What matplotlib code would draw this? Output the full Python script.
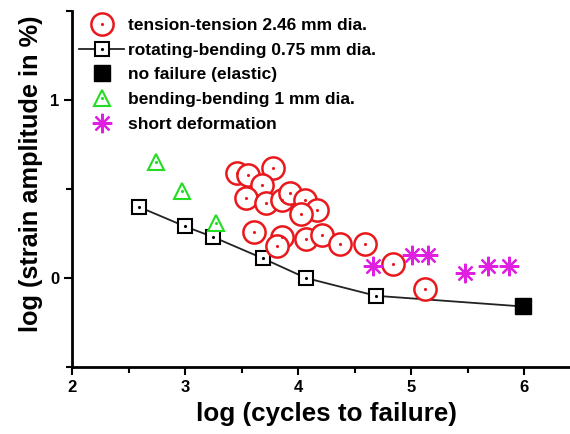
import matplotlib
matplotlib.use('Agg')
import matplotlib.pyplot as plt
from matplotlib.lines import Line2D

plt.rcParams['font.family'] = ['Liberation Sans', 'DejaVu Sans']
plt.rcParams['font.weight'] = 'bold'

# tension-tension 2.46 mm dia.
tt_x = [3.46, 3.56, 3.78, 3.68, 3.54, 3.72, 3.86, 3.93, 4.06, 4.17, 4.03,
        3.61, 3.86, 3.81, 4.07, 4.21, 4.37, 4.59, 4.84, 5.12]
tt_y = [0.59, 0.58, 0.62, 0.52, 0.45, 0.42, 0.44, 0.48, 0.44, 0.38, 0.36,
        0.26, 0.23, 0.18, 0.22, 0.24, 0.19, 0.19, 0.08, -0.06]

# rotating-bending 0.75 mm dia.
rb_x = [2.59, 3.00, 3.25, 3.69, 4.07, 4.69]
rb_y = [0.40, 0.29, 0.23, 0.11, 0.00, -0.10]

# no failure (elastic)
nf_x = [5.99]
nf_y = [-0.16]

# bending-bending 1 mm dia.
bb_x = [2.74, 2.97, 3.27]
bb_y = [0.65, 0.49, 0.31]

# short deformation
sd_x = [4.66, 5.01, 5.15, 5.48, 5.68, 5.87]
sd_y = [0.07, 0.13, 0.13, 0.03, 0.07, 0.07]

red = '#e8181c'
green = '#22dd22'
magenta = '#e020e0'
asterisk = (8, 2, 0)

fig = plt.figure(figsize=(5.7, 4.34), dpi=100)
ax = fig.add_axes([72 / 570, 1 - 367 / 434, 498 / 570, 356 / 434])

# line through rotating-bending points and the no-failure point
ax.plot(rb_x + nf_x, rb_y + nf_y, color='#222222', lw=1.3, zorder=1)
ax.plot(rb_x, rb_y, ls='none', marker='s', ms=10.5, mfc='white', mec='black', mew=1.5, zorder=3)
ax.plot(rb_x, rb_y, ls='none', marker='.', ms=2.5, color='black', zorder=4)
ax.plot(nf_x, nf_y, ls='none', marker='s', ms=11, color='black', zorder=3)

ax.plot(bb_x, bb_y, ls='none', marker='^', ms=12, mfc='white', mec=green, mew=1.5, zorder=3)
ax.plot(bb_x, bb_y, ls='none', marker='.', ms=2.5, color=green, zorder=4)

ax.plot(tt_x, tt_y, ls='none', marker='o', ms=16, mfc='white', mec=red, mew=1.8, zorder=3)
ax.plot(tt_x, tt_y, ls='none', marker='.', ms=2.5, color=red, zorder=4)

ax.plot(sd_x, sd_y, ls='none', marker=asterisk, ms=14, color=magenta, mew=1.6, zorder=3)

ax.set_xlim(2, 6.407)
ax.set_ylim(-0.5, 1.5)
ax.set_xticks([2, 3, 4, 5, 6])
ax.set_xticks([2.5, 3.5, 4.5, 5.5], minor=True)
ax.set_yticks([0, 1])
ax.set_yticks([-0.5, 0.5, 1.5], minor=True)
ax.tick_params(which='major', length=6, width=1.5, labelsize=12, pad=3)
ax.tick_params(which='minor', length=4, width=1.5)
for s in ['top', 'right']:
    ax.spines[s].set_visible(False)
for s in ['left', 'bottom']:
    ax.spines[s].set_linewidth(2)

ax.set_xlabel('log (cycles to failure)', fontsize=18.7, fontweight='bold')
ax.xaxis.set_label_coords(0.51, -0.097)
ax.set_ylabel('log (strain amplitude in %)', fontsize=18.3, fontweight='bold')
ax.yaxis.set_label_coords(-0.058, 0.542)

h_tt = (Line2D([], [], ls='none', marker='o', ms=16, mfc='white', mec=red, mew=1.8),
        Line2D([], [], ls='none', marker='.', ms=2.5, color=red))
h_rb = (Line2D([], [], color='#222222', lw=1.3, marker='s', ms=10.5, mfc='white', mec='black', mew=1.5),
        Line2D([], [], ls='none', marker='.', ms=2.5, color='black'))
h_nf = Line2D([], [], ls='none', marker='s', ms=11, color='black')
h_bb = (Line2D([], [], ls='none', marker='^', ms=12, mfc='white', mec=green, mew=1.5),
        Line2D([], [], ls='none', marker='.', ms=2.5, color=green))
h_sd = Line2D([], [], ls='none', marker=asterisk, ms=14, color=magenta, mew=1.6)
labels = ['tension-tension 2.46 mm dia.', 'rotating-bending 0.75 mm dia.',
          'no failure (elastic)', 'bending-bending 1 mm dia.', 'short deformation']
ax.legend([h_tt, h_rb, h_nf, h_bb, h_sd], labels, loc='upper left',
          bbox_to_anchor=(0.0, 1.0), borderaxespad=0, frameon=False, fontsize=12.5,
          handlelength=2.6, handletextpad=0.25, labelspacing=0.55)

fig.savefig('out.png', dpi=100)
